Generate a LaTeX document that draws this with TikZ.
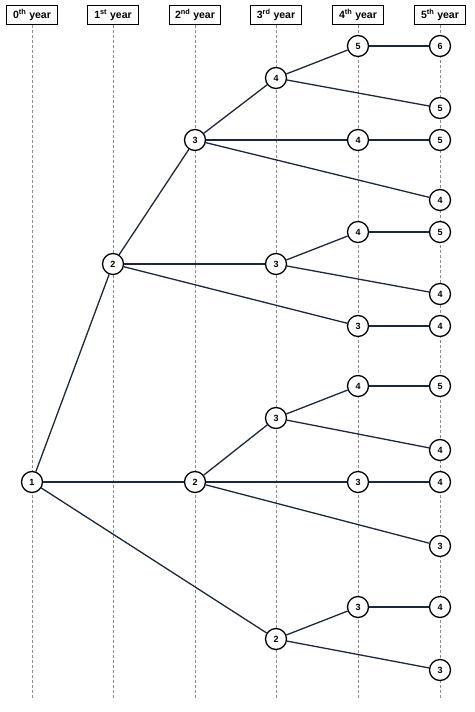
\documentclass[tikz,border=0pt]{standalone}
\usepackage{fontspec}
\setmainfont{Liberation Sans}

\begin{document}
\begin{tikzpicture}[x = 1pt, y = -1pt,
	yearbox/.style = {draw, line width = 1pt, minimum width = 51pt, minimum height = 19pt, inner sep = 0pt, font = \bfseries\fontsize{10.5}{12}\selectfont},
	state/.style = {circle, draw, fill = white, line width = 1.3pt, minimum size = 21pt, inner sep = 0pt, font = \bfseries\fontsize{9}{10}\selectfont},
	guide/.style = {gray!90, line width = 0.8pt, dash pattern = on 3pt off 2pt},
	branch/.style = {line width = 1.3pt, color = {rgb,255:red,28;green,40;blue,58}}]

	\useasboundingbox (0, 0) rectangle (474, 712);

	% Year headers with dashed guides
	
	\foreach \i/\x/\s in {0/32/th, 1/113/st, 2/195/nd, 3/276/rd, 4/358/th, 5/440/th}
		{
		\node [yearbox] (h\i) at (\x, 15) {\i\textsuperscript{\s} year};
		\draw [guide] (h\i.south) -- (\x, 700);
		}

	% States of the tree
	
	\node [state] (r) at (32, 482) {1};
	
	\node [state] (a) at (113, 264) {2};
	\node [state] (b) at (195, 482) {2};
	\node [state] (c) at (276, 639) {2};
	
	\node [state] (aa) at (195, 140) {3};
	\node [state] (ab) at (276, 264) {3};
	\node [state] (ac) at (358, 326) {3};
	\node [state] (ba) at (276, 418) {3};
	\node [state] (bb) at (358, 482) {3};
	\node [state] (bc) at (440, 546) {3};
	\node [state] (ca) at (358, 607) {3};
	\node [state] (cb) at (440, 670) {3};
	
	\node [state] (aaa) at (276, 78) {4};
	\node [state] (aab) at (358, 140) {4};
	\node [state] (aac) at (440, 200) {4};
	\node [state] (aba) at (358, 232) {4};
	\node [state] (abb) at (440, 294) {4};
	\node [state] (aca) at (440, 326) {4};
	\node [state] (baa) at (358, 386) {4};
	\node [state] (bab) at (440, 450) {4};
	\node [state] (bba) at (440, 482) {4};
	\node [state] (caa) at (440, 607) {4};
	
	\node [state] (aaaa) at (358, 46) {5};
	\node [state] (aaab) at (440, 108) {5};
	\node [state] (aaba) at (440, 140) {5};
	\node [state] (abaa) at (440, 232) {5};
	\node [state] (baaa) at (440, 386) {5};
	
	\node [state] (aaaaa) at (440, 46) {6};

	% Branches
	
	\foreach \p/\q in {r/a, r/b, r/c, a/aa, a/ab, a/ac, b/ba, b/bb, b/bc, c/ca, c/cb,
		aa/aaa, aa/aab, aa/aac, ab/aba, ab/abb, ac/aca, ba/baa, ba/bab, bb/bba, ca/caa,
		aaa/aaaa, aaa/aaab, aab/aaba, aba/abaa, baa/baaa, aaaa/aaaaa}
		\draw [branch] (\p) -- (\q);

\end{tikzpicture}
\end{document}
